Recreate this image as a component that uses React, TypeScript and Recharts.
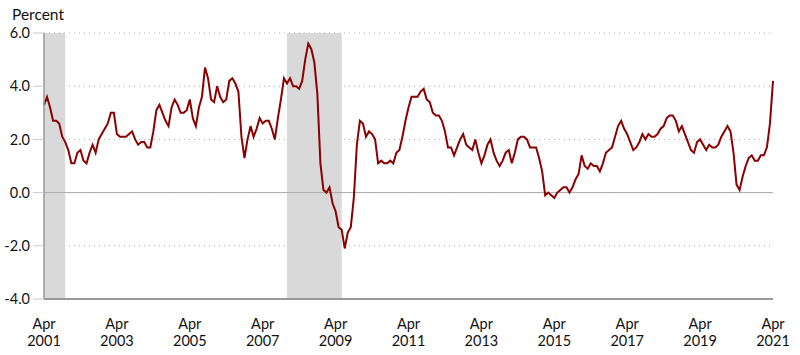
import { CartesianGrid, Line, LineChart, ReferenceArea, ReferenceLine, XAxis, YAxis } from "recharts";

// 12-month percent change, monthly, Apr 2001 .. Apr 2021
const values2001 = [3.3, 3.6, 3.2, 2.7, 2.7, 2.6, 2.1, 1.9, 1.6];
const values2002 = [1.1, 1.1, 1.5, 1.6, 1.2, 1.1, 1.5, 1.8, 1.5, 2.0, 2.2, 2.4];
const values2003 = [2.6, 3.0, 3.0, 2.2, 2.1, 2.1, 2.1, 2.2, 2.3, 2.0, 1.8, 1.9];
const values2004 = [1.9, 1.7, 1.7, 2.3, 3.1, 3.3, 3.0, 2.7, 2.5, 3.2, 3.5, 3.3];
const values2005 = [3.0, 3.0, 3.1, 3.5, 2.8, 2.5, 3.2, 3.6, 4.7, 4.3, 3.5, 3.4];
const values2006 = [4.0, 3.6, 3.4, 3.5, 4.2, 4.3, 4.1, 3.8, 2.1, 1.3, 2.0, 2.5];
const values2007 = [2.1, 2.4, 2.8, 2.6, 2.7, 2.7, 2.4, 2.0, 2.8, 3.5, 4.3, 4.1];
const values2008 = [4.3, 4.0, 4.0, 3.9, 4.2, 5.0, 5.6, 5.4, 4.9, 3.7, 1.1, 0.1];
const values2009 = [0.0, 0.2, -0.4, -0.7, -1.3, -1.4, -2.1, -1.5, -1.3, -0.2, 1.8, 2.7];
const values2010 = [2.6, 2.1, 2.3, 2.2, 2.0, 1.1, 1.2, 1.1, 1.1, 1.2, 1.1, 1.5];
const values2011 = [1.6, 2.1, 2.7, 3.2, 3.6, 3.6, 3.6, 3.8, 3.9, 3.5, 3.4, 3.0];
const values2012 = [2.9, 2.9, 2.7, 2.3, 1.7, 1.7, 1.4, 1.7, 2.0, 2.2, 1.8, 1.7];
const values2013 = [1.6, 2.0, 1.5, 1.1, 1.4, 1.8, 2.0, 1.5, 1.2, 1.0, 1.2, 1.5];
const values2014 = [1.6, 1.1, 1.5, 2.0, 2.1, 2.1, 2.0, 1.7, 1.7, 1.7, 1.3, 0.8];
const values2015 = [-0.1, 0.0, -0.1, -0.2, 0.0, 0.1, 0.2, 0.2, 0.0, 0.2, 0.5, 0.7];
const values2016 = [1.4, 1.0, 0.9, 1.1, 1.0, 1.0, 0.8, 1.1, 1.5, 1.6, 1.7, 2.1];
const values2017 = [2.5, 2.7, 2.4, 2.2, 1.9, 1.6, 1.7, 1.9, 2.2, 2.0, 2.2, 2.1];
const values2018 = [2.1, 2.2, 2.4, 2.5, 2.8, 2.9, 2.9, 2.7, 2.3, 2.5, 2.2, 1.9];
const values2019 = [1.6, 1.5, 1.9, 2.0, 1.8, 1.6, 1.8, 1.7, 1.7, 1.8, 2.1, 2.3];
const values2020 = [2.5, 2.3, 1.5, 0.3, 0.1, 0.6, 1.0, 1.3, 1.4, 1.2, 1.2, 1.4];
const values2021 = [1.4, 1.7, 2.6, 4.2];

const values = [
  ...values2001, ...values2002, ...values2003, ...values2004, ...values2005,
  ...values2006, ...values2007, ...values2008, ...values2009, ...values2010,
  ...values2011, ...values2012, ...values2013, ...values2014, ...values2015,
  ...values2016, ...values2017, ...values2018, ...values2019, ...values2020,
  ...values2021,
];

// x ticks every two years (month index from Apr 2001)
const tickYears = ["2001", "2003", "2005", "2007", "2009", "2011", "2013", "2015", "2017", "2019", "2021"];
const tickMonth = "Apr";
const yTicks = [-4, -2, 0, 2, 4, 6];

// recessions as month index ranges: Apr–Nov 2001, Dec 2007–Jun 2009
const recessions = [
  [0, 7],
  [80, 98],
];

const data = values.map((v, i) => ({ i, v }));
const xTicks = tickYears.map((_, k) => k * 24);

const FONT = "Lato, 'Open Sans', sans-serif";

function XTick({ x, y, payload }: any) {
  const year = tickYears[Math.round(payload.value / 24)];
  return (
    <text x={x} y={y} textAnchor="middle" fontFamily={FONT} fontSize={14.5} fill="#111">
      <tspan x={x} dy={22}>{tickMonth}</tspan>
      <tspan x={x} dy={17}>{year}</tspan>
    </text>
  );
}

export default function App() {
  return (
    <div style={{ position: "absolute", left: 0, top: 0, width: 800, height: 355, background: "#fff" }}>
      <div style={{ position: "absolute", left: 12, top: 5, fontFamily: FONT, fontSize: 15.5, color: "#111" }}>Percent</div>
      <LineChart width={800} height={355} data={data} margin={{ top: 33, right: 27, bottom: 6, left: 4 }}>
        <CartesianGrid horizontal vertical={false} stroke="#aaa" strokeDasharray="1 4" />
        {recessions.map(([a, b], k) => (
          <ReferenceArea key={k} x1={a} x2={b} y1={-4} y2={6} fill="#d9d9d9" fillOpacity={1} stroke="none" ifOverflow="hidden" />
        ))}
        <ReferenceLine y={0} stroke="#aaa" strokeWidth={1} />
        <XAxis
          dataKey="i"
          type="number"
          domain={[0, 240]}
          ticks={xTicks}
          tick={<XTick />}
          tickLine={false}
          axisLine={{ stroke: "#999", strokeWidth: 2 }}
          height={50}
          interval={0}
        />
        <YAxis
          type="number"
          domain={[-4, 6]}
          ticks={yTicks}
          tickFormatter={(v) => Number(v).toFixed(1)}
          tick={{ fontFamily: FONT, fontSize: 14.5, fill: "#111" }}
          tickLine={{ stroke: "#c5cbd8" }}
          tickSize={11}
          tickMargin={3}
          axisLine={{ stroke: "#999", strokeWidth: 1.5 }}
          width={40}
          interval={0}
        />
        <Line dataKey="v" stroke="#8B0000" strokeWidth={2} dot={false} isAnimationActive={false} />
      </LineChart>
    </div>
  );
}
